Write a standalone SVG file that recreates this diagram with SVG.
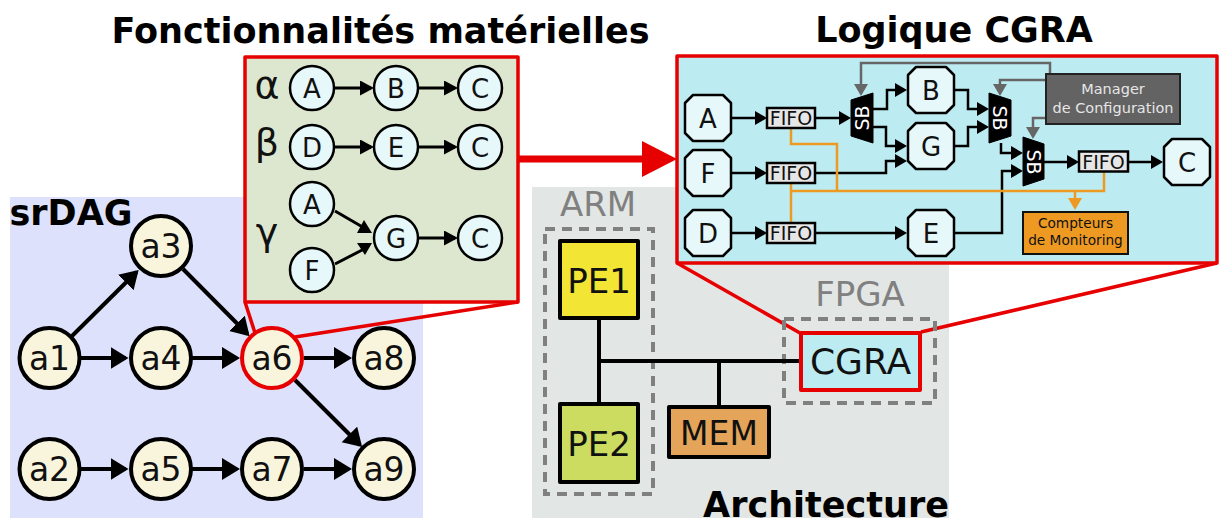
<svg xmlns="http://www.w3.org/2000/svg" width="1219" height="521" viewBox="0 0 1219 521">
<style>
text{font-family:"DejaVu Sans",Verdana,sans-serif;text-anchor:middle;fill:#111}
.title{font-weight:700;font-size:35px;fill:#000}
.n32{font-size:33px}.n26{font-size:26px}.n34{font-size:34px}
.grey{fill:#808080;font-size:34px}
.dag{fill:#f9f5dc;stroke:#000;stroke-width:4}
.fn{fill:#e6f8f9;stroke:#000;stroke-width:2.5}
.oct{fill:#e6f8f9;stroke:#000;stroke-width:2.5;stroke-linejoin:round}
.fifo{fill:#e6e6e6;stroke:#000;stroke-width:2.5}
.ft{font-size:19px}
.sb{fill:#000;stroke:#000;stroke-width:1}
.sbt{font-size:19px;fill:#fff}
.hw{stroke:#000;stroke-width:4;stroke-linejoin:round}
.dash{fill:none;stroke:#808080;stroke-width:4;stroke-dasharray:10 7}
.red{fill:none;stroke:#e60000;stroke-width:3.5}
.c{fill:none;stroke:#000}
.b{stroke-width:4;marker-end:url(#hb)}
.s{stroke-width:2.5;marker-end:url(#hs)}
.m{stroke-width:3;marker-end:url(#hm)}
.g{fill:none;stroke:#666;stroke-width:2.5;marker-end:url(#hg)}
.o{fill:none;stroke:#ee9a22;stroke-width:2.5}
</style>
<defs>
<marker id="hb" markerUnits="userSpaceOnUse" markerWidth="20" markerHeight="24" refX="15" refY="11" orient="auto"><path d="M0 0L18 11L0 22z" fill="#000"/></marker>
<marker id="hm" markerUnits="userSpaceOnUse" markerWidth="16" markerHeight="16" refX="11" refY="7.500" orient="auto"><path d="M0 0L14 7.500L0 15z" fill="#000"/></marker>
<marker id="hs" markerUnits="userSpaceOnUse" markerWidth="14" markerHeight="16" refX="9" refY="7" orient="auto"><path d="M0 0L12 7L0 14z" fill="#000"/></marker>
<marker id="hg" markerUnits="userSpaceOnUse" markerWidth="14" markerHeight="16" refX="9" refY="7" orient="auto"><path d="M0 0L12 7L0 14z" fill="#666"/></marker>
<marker id="ho" markerUnits="userSpaceOnUse" markerWidth="14" markerHeight="16" refX="9" refY="7" orient="auto"><path d="M0 0L12 7L0 14z" fill="#ee9a22"/></marker>
</defs>
<rect x="10" y="197" width="413" height="321" fill="#dde1fb"/>
<rect x="532" y="187" width="417" height="331" fill="#e2e6e5"/>
<g id="labels">
<text class="title" x="380.500" y="43">Fonctionnalités matérielles</text>
<text class="title" x="954" y="42">Logique CGRA</text>
<text class="title" x="71" y="225">srDAG</text>
<text class="title" x="826" y="517">Architecture</text>
<text class="grey" x="598" y="216">ARM</text>
<text class="grey" x="860" y="306">FPGA</text>
</g>
<g id="zoom-lines">
<path class="red" d="M245 302L256 336M518 302L295 337M677 263L800 333M1217 263L921 332"/>
<path d="M518 159H645" stroke="#e60000" stroke-width="7" fill="none"/>
<path d="M642 141L677 159L642 177z" fill="#e60000"/>
</g>
<g id="zone-arm"><rect class="dash" x="545" y="229" width="108" height="265"/></g>
<g id="zone-fpga"><rect class="dash" x="784" y="319" width="151" height="84"/></g>
<g id="functionalities">
<rect class="red" x="245" y="57" width="273" height="245" style="fill:#dde7cf;stroke-linejoin:round"/>
<text x="267" y="98" font-size="38">α</text>
<text x="267" y="155" font-size="38">β</text>
<text x="267" y="245" font-size="38">γ</text>
</g>
<g id="cgra-logic"><rect class="red" x="677" y="56" width="540" height="207" style="fill:#bcecf2;stroke-linejoin:round"/></g>
<g id="connectors">
<path class="c" stroke-width="4" d="M599 318V404M599 361H801M719 361V407"/>
<path class="c b" d="M80 358H125.500"/>
<path class="c b" d="M192 358H237"/>
<path class="c b" d="M304 358H349"/>
<path class="c b" d="M80 469H125.500"/>
<path class="c b" d="M192 469H237"/>
<path class="c b" d="M304 469H349"/>
<path class="c b" d="M72 336L136.500 272"/>
<path class="c b" d="M183 269L247.500 334"/>
<path class="c b" d="M295 380L360 445"/>
<path class="c m" d="M334 88H371"/>
<path class="c m" d="M418 88H455"/>
<path class="c m" d="M334 147H371"/>
<path class="c m" d="M418 147H455"/>
<path class="c m" d="M418 238H455"/>
<path class="c" stroke-width="3" d="M335 211L366 229M335 264L366 248"/>
<polygon points="364,220 372,233 357,233" fill="#000"/>
<polygon points="357,243 372,243 365,255" fill="#000"/>
<path class="c s" d="M732 118H764"/>
<path class="c s" d="M815 118H848"/>
<path class="c s" d="M732 173H764"/>
<path class="c s" d="M732 233H764"/>
<path class="c s" d="M873 109H887V90H904"/>
<path class="c s" d="M873 127H886V146H904"/>
<path class="c s" d="M815 173H886V161H904"/>
<path class="c s" d="M815 233H904"/>
<path class="c s" d="M955 90H968V109H986"/>
<path class="c s" d="M955 146H968V127H986"/>
<path class="c s" d="M1001 143V153H1020"/>
<path class="c s" d="M955 233H1002V171H1020"/>
<path class="c s" d="M1044 162H1076"/>
<path class="c s" d="M1128 162H1160"/>
<path class="g" d="M1050 74V63H861V93"/>
<path class="g" d="M1046 80H1000V93"/>
<path class="g" d="M1046 118H1033V136"/>
<path class="o" d="M791 128V144H837V191M791 183V223M791 191H1104V172"/>
<path class="o" d="M1075 191V207" marker-end="url(#ho)"/>
</g>
<g id="a1"><circle class="dag" cx="49.500" cy="358" r="30"/><text class="n32" x="49.500" y="370">a1</text></g>
<g id="a2"><circle class="dag" cx="49.500" cy="469" r="30"/><text class="n32" x="49.500" y="481">a2</text></g>
<g id="a3"><circle class="dag" cx="161" cy="246" r="30"/><text class="n32" x="161" y="258">a3</text></g>
<g id="a4"><circle class="dag" cx="161" cy="358" r="30"/><text class="n32" x="161" y="370">a4</text></g>
<g id="a5"><circle class="dag" cx="161" cy="469" r="30"/><text class="n32" x="161" y="481">a5</text></g>
<g id="a6"><circle class="dag" style="stroke:#e60000" cx="272" cy="358" r="30"/><text class="n32" x="272" y="370">a6</text></g>
<g id="a7"><circle class="dag" cx="272" cy="469" r="30"/><text class="n32" x="272" y="481">a7</text></g>
<g id="a8"><circle class="dag" cx="384" cy="358" r="30"/><text class="n32" x="384" y="370">a8</text></g>
<g id="a9"><circle class="dag" cx="384" cy="469" r="30"/><text class="n32" x="384" y="481">a9</text></g>
<g id="f-a1"><circle class="fn" cx="312" cy="88" r="22"/><text class="n26" x="312" y="97.500">A</text></g>
<g id="f-b"><circle class="fn" cx="396" cy="88" r="22"/><text class="n26" x="396" y="97.500">B</text></g>
<g id="f-c1"><circle class="fn" cx="480" cy="88" r="22"/><text class="n26" x="480" y="97.500">C</text></g>
<g id="f-d"><circle class="fn" cx="312" cy="147" r="22"/><text class="n26" x="312" y="156.500">D</text></g>
<g id="f-e"><circle class="fn" cx="396" cy="147" r="22"/><text class="n26" x="396" y="156.500">E</text></g>
<g id="f-c2"><circle class="fn" cx="480" cy="147" r="22"/><text class="n26" x="480" y="156.500">C</text></g>
<g id="f-a2"><circle class="fn" cx="312" cy="204" r="22"/><text class="n26" x="312" y="213.500">A</text></g>
<g id="f-f"><circle class="fn" cx="312" cy="270" r="22"/><text class="n26" x="312" y="279.500">F</text></g>
<g id="f-g"><circle class="fn" cx="396" cy="238" r="22"/><text class="n26" x="396" y="247.500">G</text></g>
<g id="f-c3"><circle class="fn" cx="480" cy="238" r="22"/><text class="n26" x="480" y="247.500">C</text></g>
<g id="oct-a"><path class="oct" d="M693 95H723L731 103V133L723 141H693L685 133V103z"/><text class="n26" x="708" y="127.500">A</text></g>
<g id="oct-f"><path class="oct" d="M693 150H723L731 158V188L723 196H693L685 188V158z"/><text class="n26" x="708" y="182.500">F</text></g>
<g id="oct-d"><path class="oct" d="M693 210H723L731 218V248L723 256H693L685 248V218z"/><text class="n26" x="708" y="242.500">D</text></g>
<g id="oct-b"><path class="oct" d="M916 67H946L954 75V105L946 113H916L908 105V75z"/><text class="n26" x="931" y="99.500">B</text></g>
<g id="oct-g"><path class="oct" d="M916 123H946L954 131V161L946 169H916L908 161V131z"/><text class="n26" x="931" y="155.500">G</text></g>
<g id="oct-e"><path class="oct" d="M916 210H946L954 218V248L946 256H916L908 248V218z"/><text class="n26" x="931" y="242.500">E</text></g>
<g id="oct-c"><path class="oct" d="M1172 139H1202L1210 147V177L1202 185H1172L1164 177V147z"/><text class="n26" x="1187" y="171.500">C</text></g>
<g id="fifo1"><rect class="fifo" x="767" y="108" width="48" height="20"/><text class="ft" x="791" y="125">FIFO</text></g>
<g id="fifo2"><rect class="fifo" x="767" y="163" width="48" height="20"/><text class="ft" x="791" y="180">FIFO</text></g>
<g id="fifo3"><rect class="fifo" x="767" y="223" width="48" height="20"/><text class="ft" x="791" y="240">FIFO</text></g>
<g id="fifo4"><rect class="fifo" x="1079" y="151.500" width="49" height="20"/><text class="ft" x="1103.500" y="168.500">FIFO</text></g>
<g id="sb1"><path class="sb" d="M851 100L873 93V143L851 136z"/><text class="sbt" transform="translate(869 118) rotate(-90)">SB</text></g>
<g id="sb2"><path class="sb" d="M989 93L1011 100V136L989 143z"/><text class="sbt" transform="translate(993 118) rotate(90)">SB</text></g>
<g id="sb3"><path class="sb" d="M1023 137L1044 144V179L1023 186z"/><text class="sbt" transform="translate(1027 162) rotate(90)">SB</text></g>
<g id="manager"><rect x="1046" y="74" width="134" height="50" fill="#636363" stroke="#222" stroke-width="2"/><text x="1113" y="94" font-size="14.500" style="fill:#e6e6e6">Manager</text><text x="1113" y="113" font-size="14.500" style="fill:#e6e6e6">de Configuration</text></g>
<g id="monitoring"><rect x="1023" y="212" width="105" height="42" fill="#ee9a22" stroke="#111" stroke-width="2"/><text x="1075.500" y="228" font-size="13.700">Compteurs</text><text x="1075.500" y="245" font-size="13.700">de Monitoring</text></g>
<g id="pe1"><rect class="hw" x="560" y="241" width="78" height="77" fill="#f3e533"/><text x="599" y="293" style="font-size:34px">PE1</text></g>
<g id="pe2"><rect class="hw" x="560" y="404" width="78" height="78" fill="#cbdc60"/><text x="599" y="456" style="font-size:34px">PE2</text></g>
<g id="mem"><rect class="hw" x="669" y="407" width="100" height="50" fill="#e4a55a"/><text x="719" y="445" style="font-size:33px">MEM</text></g>
<g id="cgra"><rect class="hw" x="801" y="333" width="119" height="57" fill="#bcecf2" style="stroke:#e60000"/><text x="860.500" y="374" style="font-size:36px">CGRA</text></g>
</svg>
